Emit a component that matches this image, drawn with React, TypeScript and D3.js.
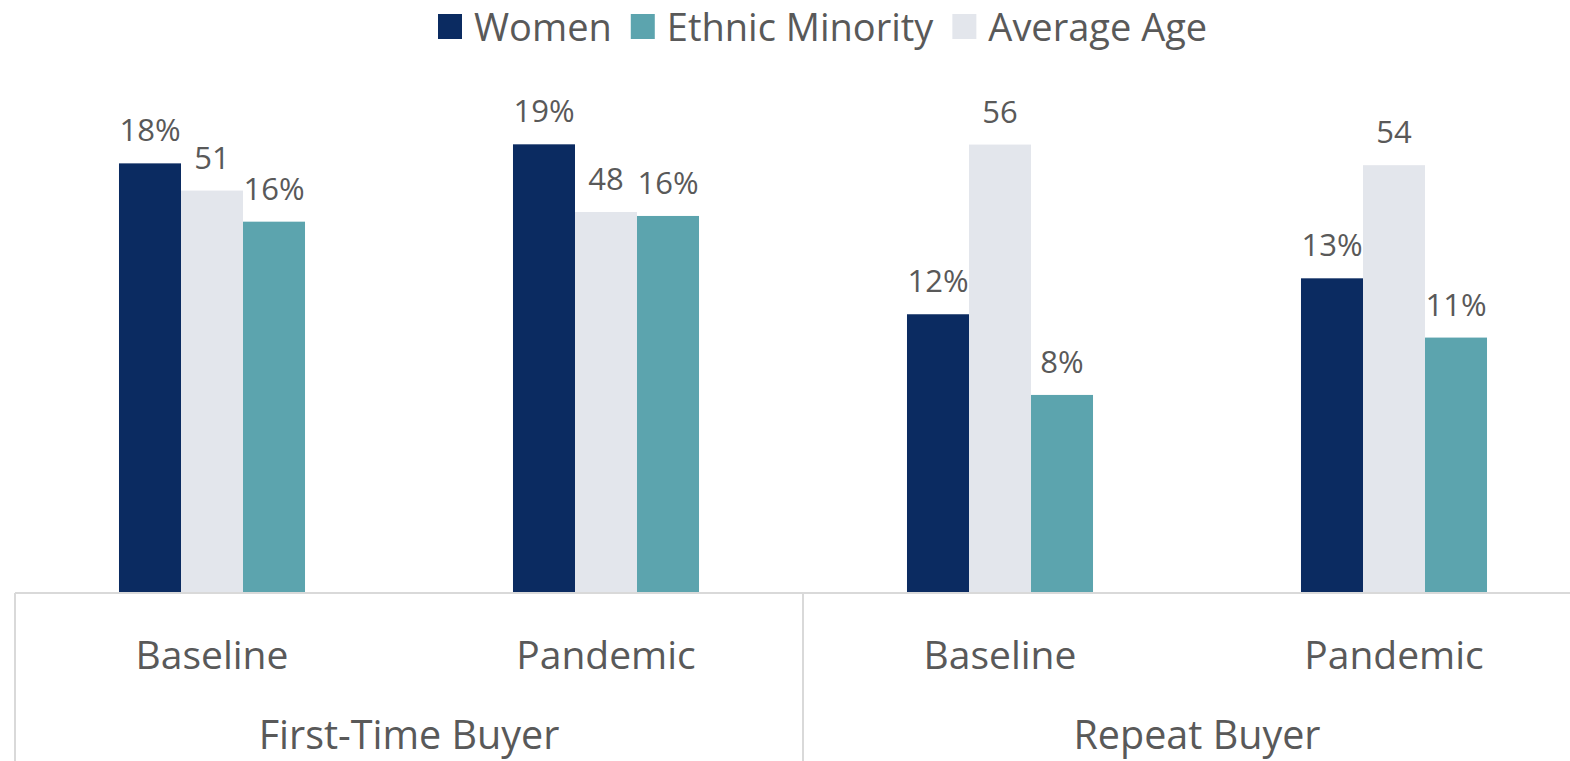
import React, { useEffect, useRef } from "react";
import * as d3 from "d3";

// Category axis: inner labels and their outer groups
const categories = ["FTB-Baseline", "FTB-Pandemic", "RB-Baseline", "RB-Pandemic"];
const categoryLabels = ["Baseline", "Pandemic", "Baseline", "Pandemic"];
const groupLabels = ["First-Time Buyer", "Repeat Buyer"];

// Series values (shares on the primary axis, age on the secondary axis)
const women = [0.1801, 0.1881, 0.1167, 0.1318];
const averageAge = [50.6, 47.9, 56.4, 53.8];
const ethnicMinority = [0.1556, 0.158, 0.0828, 0.1069];

// Order of bars within a category, and the legend order
const barOrder = ["Women", "Average Age", "Ethnic Minority"];
const legendOrder = ["Women", "Ethnic Minority", "Average Age"];

const colors: Record<string, string> = {
  Women: "#0b2b61",
  "Ethnic Minority": "#5ca4ae",
  "Average Age": "#e3e6ec",
};

const W = 1570;
const H = 761;
const FONT = "'Open Sans', sans-serif";
const TEXT = "#595959";
const LINE = "#d9d9d9";

export default function App() {
  const ref = useRef<SVGSVGElement | null>(null);

  useEffect(() => {
    document.body.style.margin = "0";
    const svg = d3.select(ref.current);
    svg.selectAll("*").remove();

    const left = 15;
    const right = 1591;
    const top = 116;
    const bottom = 592;

    const x0 = d3.scaleBand<string>().domain(categories).range([left, right]).padding(0);
    const x1 = d3
      .scaleBand<string>()
      .domain(barOrder)
      .range([0, x0.bandwidth()])
      .paddingInner(0)
      .paddingOuter(1.677);

    const yPct = d3.scaleLinear().domain([0, 0.2]).range([bottom, top]);
    const yAge = d3.scaleLinear().domain([0, 60]).range([bottom, top]);

    const rows = categories.map((c, i) => ({
      cat: c,
      bars: [
        { key: "Women", v: women[i], y: yPct(women[i]), label: d3.format(".0%")(women[i]) },
        { key: "Average Age", v: averageAge[i], y: yAge(averageAge[i]), label: d3.format(".0f")(averageAge[i]) },
        {
          key: "Ethnic Minority",
          v: ethnicMinority[i],
          y: yPct(ethnicMinority[i]),
          label: d3.format(".0%")(ethnicMinority[i]),
        },
      ],
    }));

    const g = svg
      .selectAll("g.cat")
      .data(rows)
      .join("g")
      .attr("class", "cat")
      .attr("transform", (d) => `translate(${x0(d.cat)},0)`);

    g.selectAll("rect")
      .data((d) => d.bars)
      .join("rect")
      .attr("x", (d) => x1(d.key)!)
      .attr("width", x1.bandwidth())
      .attr("y", (d) => d.y)
      .attr("height", (d) => bottom - d.y)
      .attr("fill", (d) => colors[d.key]);

    g.selectAll("text.lbl")
      .data((d) => d.bars)
      .join("text")
      .attr("class", "lbl")
      .attr("x", (d) => x1(d.key)! + x1.bandwidth() / 2)
      .attr("y", (d) => d.y - 22)
      .attr("text-anchor", "middle")
      .attr("font-family", FONT)
      .attr("font-size", 31)
      .attr("fill", TEXT)
      .text((d) => d.label);

    // Axis line and multi-level category dividers
    const axisY = bottom + 1;
    svg
      .append("line")
      .attr("x1", left)
      .attr("x2", right)
      .attr("y1", axisY)
      .attr("y2", axisY)
      .attr("stroke", LINE)
      .attr("stroke-width", 2);

    const groupEdges = [left, x0(categories[2])!, right];
    svg
      .selectAll("line.div")
      .data(groupEdges)
      .join("line")
      .attr("class", "div")
      .attr("x1", (d) => d)
      .attr("x2", (d) => d)
      .attr("y1", axisY)
      .attr("y2", H + 10)
      .attr("stroke", LINE)
      .attr("stroke-width", 2);

    svg
      .selectAll("text.catlbl")
      .data(categories)
      .join("text")
      .attr("class", "catlbl")
      .attr("x", (d) => x0(d)! + x0.bandwidth() / 2)
      .attr("y", 669)
      .attr("text-anchor", "middle")
      .attr("font-family", FONT)
      .attr("font-size", 39)
      .attr("fill", TEXT)
      .text((_, i) => categoryLabels[i]);

    svg
      .selectAll("text.grplbl")
      .data(groupLabels)
      .join("text")
      .attr("class", "grplbl")
      .attr("x", (_, i) => (groupEdges[i] + groupEdges[i + 1]) / 2)
      .attr("y", 749)
      .attr("text-anchor", "middle")
      .attr("font-family", FONT)
      .attr("font-size", 39.5)
      .attr("fill", TEXT)
      .text((d) => d);

    // Legend
    const legend = svg.append("g").attr("transform", "translate(438,0)");
    let cx = 0;
    legendOrder.forEach((key) => {
      const item = legend.append("g").attr("transform", `translate(${cx},0)`);
      item.append("rect").attr("x", 0).attr("y", 14).attr("width", 24).attr("height", 25).attr("fill", colors[key]);
      const t = item
        .append("text")
        .attr("x", 36)
        .attr("y", 41)
        .attr("font-family", FONT)
        .attr("font-size", 38)
        .attr("fill", TEXT)
        .text(key);
      const w = (t.node() as SVGTextElement).getComputedTextLength();
      cx += 36 + w + 19;
    });
  }, []);

  return <svg ref={ref} width={W} height={H} style={{ display: "block", background: "#fff" }} />;
}
